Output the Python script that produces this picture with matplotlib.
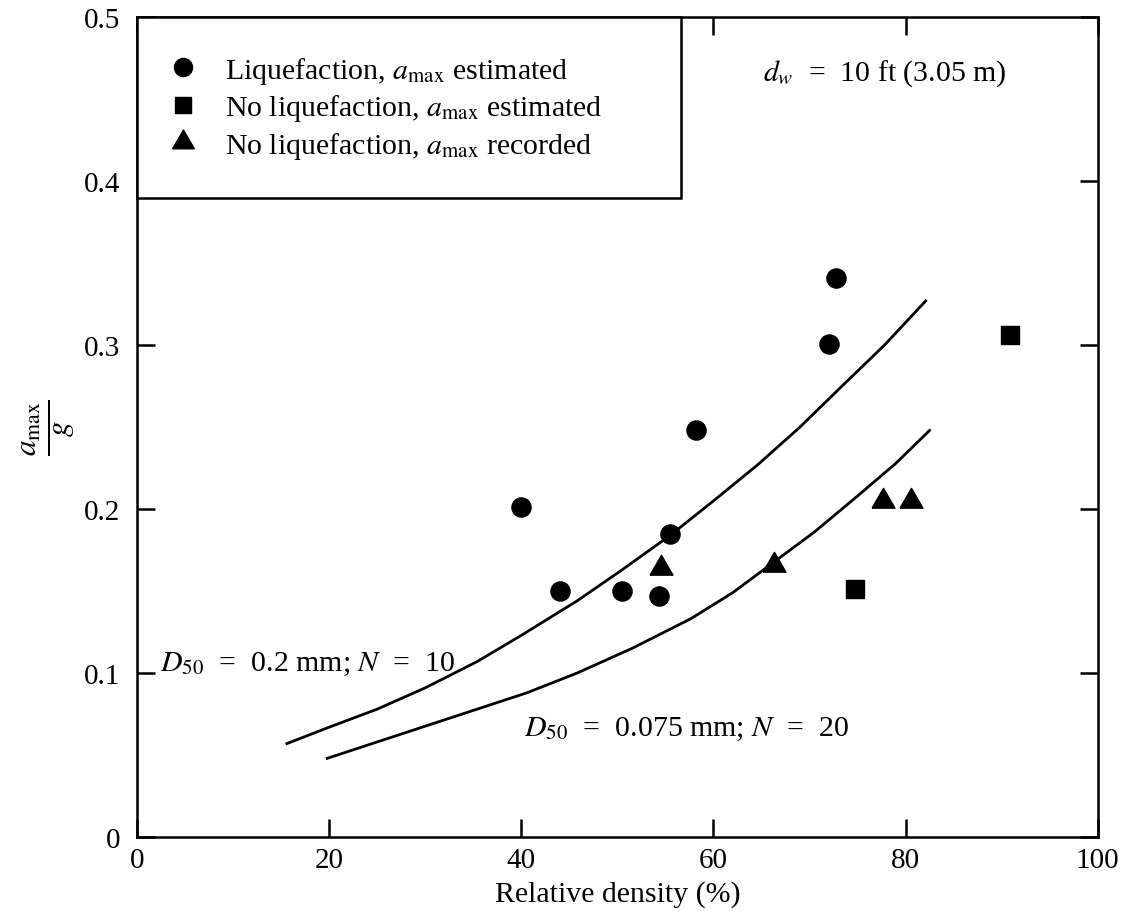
import matplotlib
matplotlib.use("Agg")
import matplotlib.pyplot as plt
from matplotlib.lines import Line2D

plt.rcParams['font.family'] = ['Liberation Serif', 'DejaVu Serif']
plt.rcParams['mathtext.fontset'] = 'stix'

# Data
liq_x = [40.0, 44.0, 50.5, 54.3, 55.5, 58.2, 72.0, 72.8]
liq_y = [0.201, 0.150, 0.150, 0.147, 0.185, 0.248, 0.301, 0.341]

noliq_est_x = [74.7, 90.9]
noliq_est_y = [0.151, 0.306]

noliq_rec_x = [54.5, 66.3, 77.6, 80.6]
noliq_rec_y = [0.164, 0.166, 0.205, 0.205]

curve1_x = [15.6, 20.0, 25.0, 30.0, 35.4, 40.0, 45.8, 50.5, 55.5, 60.0, 64.6, 69.0, 73.2, 77.8, 82.1]
curve1_y = [0.057, 0.067, 0.078, 0.091, 0.107, 0.123, 0.144, 0.163, 0.184, 0.205, 0.227, 0.250, 0.274, 0.300, 0.327]

curve2_x = [19.8, 25.0, 30.2, 35.4, 40.6, 45.8, 51.5, 57.6, 62.0, 65.9, 70.5, 75.0, 79.0, 82.5]
curve2_y = [0.048, 0.058, 0.068, 0.078, 0.088, 0.100, 0.115, 0.133, 0.149, 0.166, 0.186, 0.208, 0.228, 0.248]

x_ticks = [0, 20, 40, 60, 80, 100]
y_ticks = [0, 0.1, 0.2, 0.3, 0.4, 0.5]
y_ticklabels = ['0', '0.1', '0.2', '0.3', '0.4', '0.5']

# equilateral triangle marker
tri = [(-1.0, -0.58), (1.0, -0.58), (0.0, 1.15), (-1.0, -0.58)]

fig = plt.figure(figsize=(11.27, 9.12), dpi=100)
ax = fig.add_axes([0.1216, 0.0811, 0.8524, 0.8989])

ax.plot(curve1_x, curve1_y, color='black', lw=2.0, solid_joinstyle='round')
ax.plot(curve2_x, curve2_y, color='black', lw=2.0, solid_joinstyle='round')

ax.scatter(liq_x, liq_y, marker='o', s=190, color='black', zorder=3)
ax.scatter(noliq_est_x, noliq_est_y, marker='s', s=170, color='black', zorder=3)
ax.scatter(noliq_rec_x, noliq_rec_y, marker=tri, s=360, color='black', zorder=3)

ax.set_xlim(0, 100)
ax.set_ylim(0, 0.5)
ax.set_xticks(x_ticks)
ax.set_yticks(y_ticks)
ax.set_yticklabels(y_ticklabels)
ax.tick_params(direction='in', length=13, width=1.8, labelsize=21,
               top=True, right=True)
ax.tick_params(axis='x', pad=7)
ax.tick_params(axis='y', pad=12)
for s in ax.spines.values():
    s.set_linewidth(1.8)

ax.set_xlabel('Relative density (%)', fontsize=21.5, va='center')
ax.xaxis.set_label_coords(0.5, -0.069)
ax.set_ylabel(r'$\frac{a_{\rm max}}{g}$', fontsize=32, va='center')
ax.yaxis.set_label_coords(-0.092, 0.5)

handles = [
    Line2D([], [], marker='o', ls='none', color='black', markersize=13),
    Line2D([], [], marker='s', ls='none', color='black', markersize=12),
    Line2D([], [], marker=tri, ls='none', color='black', markersize=18),
]
labels = [r'Liquefaction, $a_{\rm max}$ estimated',
          r'No liquefaction, $a_{\rm max}$ estimated',
          r'No liquefaction, $a_{\rm max}$ recorded']
leg = ax.legend(handles, labels, loc='upper left',
                bbox_to_anchor=(0.0, 0.0, 0.566, 1.0), mode='expand',
                borderaxespad=0.0, fancybox=False, edgecolor='black',
                framealpha=1, fontsize=21.5, borderpad=1.25, labelspacing=0.22,
                handletextpad=1.15, handlelength=0.55)
leg.get_frame().set_linewidth(1.8)

ax.text(77.8, 0.466, r'$d_w$  =  10 ft (3.05 m)', fontsize=21.5, ha='center', va='center')
ax.text(2.4, 0.106, r'$D_{50}$  =  0.2 mm; $N$  =  10', fontsize=21.5, ha='left', va='center')
ax.text(40.3, 0.066, r'$D_{50}$  =  0.075 mm; $N$  =  20', fontsize=21.5, ha='left', va='center')

fig.savefig('out.png', dpi=100, facecolor='white')
